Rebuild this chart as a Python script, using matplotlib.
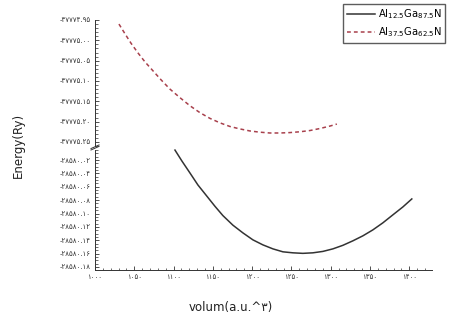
import matplotlib
matplotlib.use("Agg")
import matplotlib.pyplot as plt

plt.rcParams['font.family'] = ['DejaVu Sans']

# data
vol_a = [1101.8, 1110.7, 1120.9, 1131.0, 1142.5, 1152.7, 1162.8, 1175.6, 1188.3, 1201.0,
         1213.7, 1226.5, 1239.2, 1251.9, 1264.6, 1277.4, 1290.1, 1302.8, 1315.5, 1328.2,
         1341.0, 1353.7, 1366.4, 1379.1, 1391.9, 1403.3]
e_a = [-28580.0051, -28580.0216, -28580.0394, -28580.0573, -28580.0742, -28580.0892,
       -28580.1031, -28580.1175, -28580.1290, -28580.1394, -28580.1469, -28580.1529,
       -28580.1573, -28580.1588, -28580.1596, -28580.1588, -28580.1567, -28580.1529,
       -28580.1476, -28580.1409, -28580.1334, -28580.1245, -28580.1140, -28580.1021,
       -28580.0902, -28580.0782]
vol_b = [1030.5, 1038.2, 1045.8, 1054.7, 1063.6, 1073.8, 1084.0, 1095.4, 1108.1, 1120.9,
         1133.6, 1146.3, 1159.0, 1171.8, 1184.5, 1197.2, 1209.9, 1222.6, 1235.4, 1248.1,
         1260.8, 1273.5, 1286.3, 1299.0, 1307.9]
e_b = [-37774.960, -37774.984, -37775.007, -37775.031, -37775.053, -37775.075, -37775.097,
       -37775.120, -37775.141, -37775.161, -37775.178, -37775.192, -37775.203, -37775.212,
       -37775.218, -37775.223, -37775.226, -37775.228, -37775.228, -37775.227, -37775.225,
       -37775.222, -37775.217, -37775.211, -37775.206]

label_a = r'Al$_{12.5}$Ga$_{87.5}$N'
label_b = r'Al$_{37.5}$Ga$_{62.5}$N'

x_ticks = [1000, 1050, 1100, 1150, 1200, 1250, 1300, 1350, 1400]
x_labels = ['۱۰۰۰', '۱۰۵۰', '۱۱۰۰', '۱۱۵۰', '۱۲۰۰', '۱۲۵۰', '۱۳۰۰', '۱۳۵۰', '۱۴۰۰']
top_ticks = [-37774.95, -37775.00, -37775.05, -37775.10, -37775.15, -37775.20, -37775.25]
top_labels = ['-۳۷۷۷۴.۹۵', '-۳۷۷۷۵.۰۰', '-۳۷۷۷۵.۰۵', '-۳۷۷۷۵.۱۰', '-۳۷۷۷۵.۱۵',
              '-۳۷۷۷۵.۲۰', '-۳۷۷۷۵.۲۵']
bot_ticks = [-28580.02, -28580.04, -28580.06, -28580.08, -28580.10, -28580.12,
             -28580.14, -28580.16, -28580.18]
bot_labels = ['-۲۸۵۸۰.۰۲', '-۲۸۵۸۰.۰۴', '-۲۸۵۸۰.۰۶', '-۲۸۵۸۰.۰۸', '-۲۸۵۸۰.۱۰',
              '-۲۸۵۸۰.۱۲', '-۲۸۵۸۰.۱۴', '-۲۸۵۸۰.۱۶', '-۲۸۵۸۰.۱۸']

W, H = 453, 321
fig = plt.figure(figsize=(W / 100, H / 100), dpi=100)
left, width = 95 / W, 337 / W
ax_top = fig.add_axes([left, 1 - 146 / H, width, 126 / H])
ax_bot = fig.add_axes([left, 1 - 270 / H, width, 120 / H])

line_b, = ax_top.plot(vol_b, e_b, color='#a8404c', lw=1.1, ls=(0, (2.5, 2)), clip_on=False)
line_a, = ax_bot.plot(vol_a, e_a, color='#333333', lw=1.1, clip_on=False)

for ax in (ax_top, ax_bot):
    ax.set_xlim(1000, 1429)
    ax.spines['top'].set_visible(False)
    ax.spines['right'].set_visible(False)
    ax.tick_params(direction='in', labelsize=5, length=3, width=0.6, pad=3, colors='#333333')
    ax.tick_params(which='minor', direction='in', length=1.8, width=0.5, colors='#333333')
    ax.minorticks_on()
    for s in ax.spines.values():
        s.set_linewidth(0.7)
        s.set_color('#333333')

ax_top.set_ylim(-37775.26, -37774.95)
ax_top.set_yticks(top_ticks)
ax_top.set_yticklabels(top_labels)
ax_top.spines['bottom'].set_visible(False)
ax_top.tick_params(axis='x', which='both', bottom=False, labelbottom=False)

ax_bot.set_ylim(-28580.1845, -28580.005)
ax_bot.set_yticks(bot_ticks)
ax_bot.set_yticklabels(bot_labels)
ax_bot.set_xticks(x_ticks)
ax_bot.set_xticklabels(x_labels)

# break marks on the y axis
for dy in (0.0, 0.012):
    ax_bot.plot([-0.012, 0.012], [1.0 + dy, 1.03 + dy], transform=ax_bot.transAxes,
                color='#333333', lw=0.7, clip_on=False)

fig.text(0.51, 1 - 308 / H, 'volum(a.u.^۳)', ha='center', va='center', fontsize=8.5, color='#222222')
fig.text(18 / W, 1 - 145 / H, 'Energy(Ry)', ha='center', va='center', rotation=90,
         fontsize=8.5, color='#222222')

fig.legend([line_a, line_b], [label_a, label_b], loc='upper left',
           bbox_to_anchor=(343 / W, 1 - 4 / H), fontsize=7.2, frameon=True, fancybox=False,
           edgecolor='#333333', handlelength=2.8, borderpad=0.35, labelspacing=0.4,
           handletextpad=0.3, borderaxespad=0.0)

fig.savefig('out.png', dpi=100)
